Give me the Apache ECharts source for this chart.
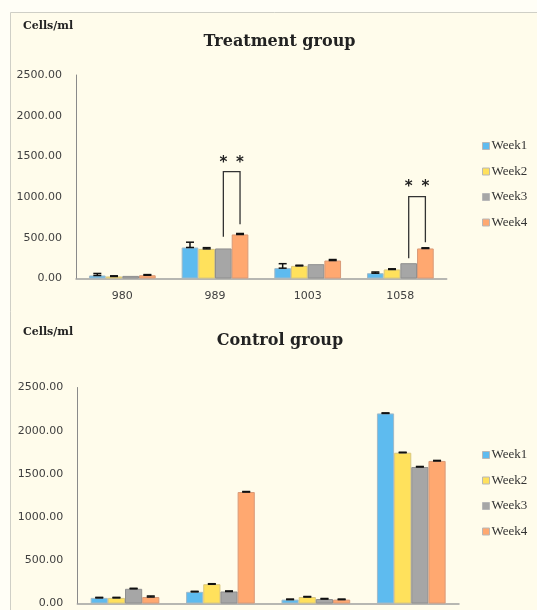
<!DOCTYPE html>
<html>
<head>
<meta charset="utf-8">
<script src="https://cdn.jsdelivr.net/npm/echarts@6/dist/echarts.min.js"></script>
<style>
  html, body { margin: 0; padding: 0; background: #FFFEF6; }
  #chart { width: 537px; height: 610px; }
</style>
</head>
<body>
<div id="chart"></div>
<script>
// Cell counts (cells/ml) per sample, four weekly measurements
const categories = ['980', '989', '1003', '1058'];
const weekNames = ['Week1', 'Week2', 'Week3', 'Week4'];

// Treatment group means and error-bar heights
const treatWeek1 = [37, 381, 127, 65];
const treatWeek2 = [25, 364, 155, 111];
const treatWeek3 = [32, 369, 176, 188];
const treatWeek4 = [40, 541, 221, 369];
const treatErr1 = [25, 65, 55, 15];
const treatErr2 = [8, 15, 8, 8];
const treatErr3 = [0, 0, 0, 0];
const treatErr4 = [8, 12, 12, 8];

// Control group means and error-bar heights
const ctrlWeek1 = [65, 135, 45, 2200];
const ctrlWeek2 = [65, 223, 75, 1745];
const ctrlWeek3 = [170, 139, 52, 1580];
const ctrlWeek4 = [75, 1290, 45, 1650];
const ctrlErr1 = [6, 6, 6, 6];
const ctrlErr2 = [6, 6, 6, 6];
const ctrlErr3 = [6, 6, 6, 6];
const ctrlErr4 = [12, 6, 6, 6];

// Significance brackets in the treatment group:
// [category index, left week index, right week index, left leg start, right leg start, bracket top, star level]
const sigBrackets = [
  [1, 2, 3, 514, 666, 1313, 1456],
  [3, 2, 3, 248, 445, 1005, 1158]
];
const sigLabel = '*';

const weekColors = ['#5EBBEF', '#FFE15C', '#A6A6A6', '#FFA870'];
const weekBorders = ['#9FB9C8', '#D9C77E', '#8F8F8F', '#D99A78'];
const CAT_GAP = 0.28;

const chart = echarts.init(document.getElementById('chart'));

function barSeries(name, data, idx, axisIdx) {
  return {
    name: name,
    type: 'bar',
    xAxisIndex: axisIdx,
    yAxisIndex: axisIdx,
    data: data,
    barGap: '0%',
    barCategoryGap: (CAT_GAP * 100) + '%',
    itemStyle: { color: weekColors[idx], borderColor: weekBorders[idx], borderWidth: 1 },
    emphasis: { disabled: true },
    z: 2
  };
}

function errorData(valueSets, errSets) {
  const out = [];
  valueSets.forEach(function (vals, s) {
    vals.forEach(function (v, c) { out.push([c, s, v, errSets[s][c]]); });
  });
  return out;
}

function renderError(params, api) {
  const c = api.value(0), s = api.value(1), v = api.value(2), e = api.value(3);
  if (!e) return null;
  const catW = api.size([1, 0])[0];
  const bw = catW * (1 - CAT_GAP) / 4;
  const x = api.coord([c, 0])[0] + (s - 1.5) * bw;
  const yLo = api.coord([c, v])[1];
  const yHi = api.coord([c, v + e])[1];
  const half = 4;
  const st = { stroke: '#111', lineWidth: 1.5 };
  return {
    type: 'group',
    children: [
      { type: 'line', shape: { x1: x, y1: yLo, x2: x, y2: yHi }, style: st },
      { type: 'line', shape: { x1: x - half, y1: yHi, x2: x + half, y2: yHi }, style: st },
      { type: 'line', shape: { x1: x - half, y1: yLo, x2: x + half, y2: yLo }, style: st }
    ]
  };
}

function renderBracket(params, api) {
  const c = api.value(0), l = api.value(1), r = api.value(2);
  const lFrom = api.value(3), rFrom = api.value(4), top = api.value(5), star = api.value(6);
  const catW = api.size([1, 0])[0];
  const bw = catW * (1 - CAT_GAP) / 4;
  const cx = api.coord([c, 0])[0];
  const xl = cx + (l - 1.5) * bw;
  const xr = cx + (r - 1.5) * bw;
  const yl = api.coord([c, lFrom])[1];
  const yr = api.coord([c, rFrom])[1];
  const yt = api.coord([c, top])[1];
  const ys = api.coord([c, star])[1];
  const starStyle = function (x) {
    return {
      type: 'text',
      style: {
        x: x, y: ys + 3, text: sigLabel, fill: '#222',
        font: 'bold 15px "DejaVu Sans"', textAlign: 'center', textVerticalAlign: 'middle'
      }
    };
  };
  return {
    type: 'group',
    children: [
      {
        type: 'polyline',
        shape: { points: [[xl, yl], [xl, yt], [xr, yt], [xr, yr]] },
        style: { stroke: '#333', lineWidth: 1.3, fill: 'none' }
      },
      starStyle(xl),
      starStyle(xr)
    ]
  };
}

const axisLabelStyle = {
  color: '#404040',
  fontFamily: 'DejaVu Sans',
  fontSize: 11
};

const treatSets = [treatWeek1, treatWeek2, treatWeek3, treatWeek4];
const ctrlSets = [ctrlWeek1, ctrlWeek2, ctrlWeek3, ctrlWeek4];

const series = [];
treatSets.forEach(function (d, i) { series.push(barSeries(weekNames[i], d, i, 0)); });
ctrlSets.forEach(function (d, i) { series.push(barSeries(weekNames[i], d, i, 1)); });
series.push({
  type: 'custom', xAxisIndex: 0, yAxisIndex: 0, z: 5, silent: true,
  renderItem: renderError,
  encode: { x: 0, y: 2 },
  data: errorData(treatSets, [treatErr1, treatErr2, treatErr3, treatErr4])
});
series.push({
  type: 'custom', xAxisIndex: 1, yAxisIndex: 1, z: 5, silent: true,
  renderItem: renderError,
  encode: { x: 0, y: 2 },
  data: errorData(ctrlSets, [ctrlErr1, ctrlErr2, ctrlErr3, ctrlErr4])
});
series.push({
  type: 'custom', xAxisIndex: 0, yAxisIndex: 0, z: 6, silent: true,
  renderItem: renderBracket,
  encode: { x: 0, y: 5 },
  data: sigBrackets
});

function legendAt(top) {
  return {
    orient: 'vertical',
    left: 477,
    top: top,
    itemWidth: 7,
    itemHeight: 7,
    itemGap: 9.5,
    icon: 'rect',
    selectedMode: false,
    data: weekNames,
    itemStyle: { borderColor: '#B8B8B8', borderWidth: 1 },
    textStyle: {
      fontFamily: '"Liberation Serif"', fontSize: 13, color: '#333',
      lineHeight: 16, padding: [0, 0, 0, -3]
    }
  };
}

function yAxisDef(gridIdx) {
  return {
    type: 'value', gridIndex: gridIdx, min: 0, max: 2500, interval: 500,
    splitLine: { show: false },
    axisTick: { show: false },
    axisLine: { show: true, lineStyle: { color: '#8A8A8A', width: 1 } },
    axisLabel: Object.assign({ margin: 14, formatter: function (v) { return v.toFixed(2); } }, axisLabelStyle)
  };
}

chart.setOption({
  backgroundColor: '#FFFEF6',
  animation: false,
  graphic: [
    {
      type: 'rect', silent: true, z: -10,
      shape: { x: 10.5, y: 12.5, width: 540, height: 610 },
      style: { fill: '#FFFCEB', stroke: '#CFCFC6', lineWidth: 1 }
    },
    {
      type: 'text', silent: true, x: 23, y: 26,
      style: { text: 'Cells/ml', font: 'bold 11px "DejaVu Serif"', fill: '#222', textVerticalAlign: 'middle' }
    },
    {
      type: 'text', silent: true, x: 23, y: 332,
      style: { text: 'Cells/ml', font: 'bold 11px "DejaVu Serif"', fill: '#222', textVerticalAlign: 'middle' }
    },
    {
      type: 'text', silent: true, x: 279.5, y: 42,
      style: { text: 'Treatment group', font: 'bold 16px "DejaVu Serif"', fill: '#222', textAlign: 'center', textVerticalAlign: 'middle' }
    },
    {
      type: 'text', silent: true, x: 280, y: 341,
      style: { text: 'Control group', font: 'bold 16px "DejaVu Serif"', fill: '#222', textAlign: 'center', textVerticalAlign: 'middle' }
    }
  ],
  legend: [legendAt(133), legendAt(442)],
  grid: [
    { left: 76, top: 75, right: 90.3, bottom: 331.5, containLabel: false },
    { left: 77.3, top: 387.5, right: 78, bottom: 6.5, containLabel: false }
  ],
  xAxis: [
    {
      type: 'category', gridIndex: 0, data: categories,
      axisTick: { show: false },
      axisLine: { lineStyle: { color: '#A0A0A0', width: 1.5 } },
      axisLabel: Object.assign({ margin: 12 }, axisLabelStyle)
    },
    {
      type: 'category', gridIndex: 1, data: categories,
      axisTick: { show: false },
      axisLine: { lineStyle: { color: '#A0A0A0', width: 1.5 } },
      axisLabel: { show: false }
    }
  ],
  yAxis: [yAxisDef(0), yAxisDef(1)],
  series: series
});
</script>
</body>
</html>
